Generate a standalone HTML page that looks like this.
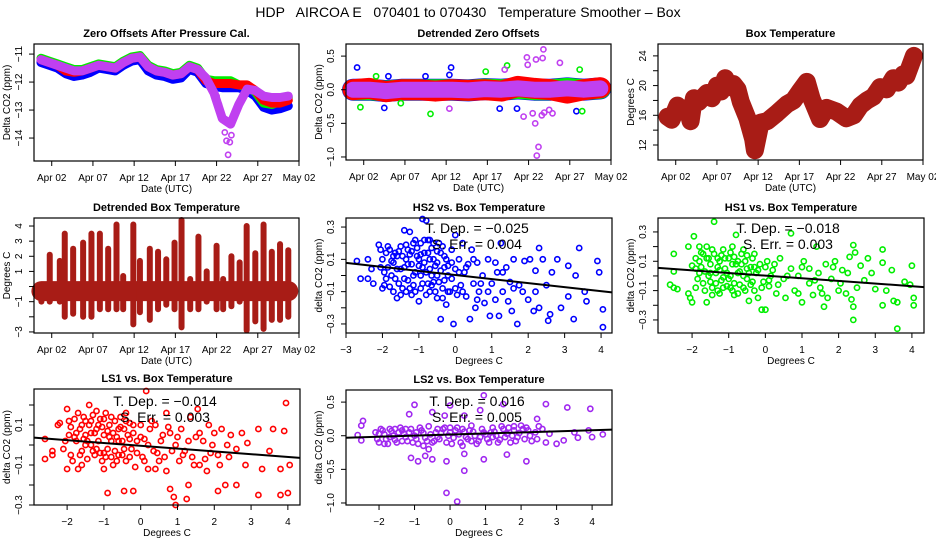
<!DOCTYPE html>
<html><head><meta charset="utf-8"><title>HDP AIRCOA E Temperature Smoother</title>
<style>
html,body{margin:0;padding:0;background:#fff;}
svg{display:block;font-family:"Liberation Sans",Arial,sans-serif;}
</style></head>
<body>
<svg id="chart" width="936" height="540" viewBox="0 0 936 540">
<rect x="0" y="0" width="936" height="540" fill="#fff"/>
<text x="468" y="17" text-anchor="middle" font-size="14" xml:space="preserve">HDP   AIRCOA E   070401 to 070430   Temperature Smoother – Box</text>
</svg>
<script>
// ---------- Panel 1: Zero offsets (days since Apr 01) ----------
const zoTimes = [-0.3,0.7,1.7,2.7,3.7,4.7,5.7,6.7,7.7,8.7,9.7,10.7,11.7,12.7,13.7,14.7,15.7,16.7,17.7,18.7,19.7,20.7,21.7,22.7,23.7,24.7,25.7,26.7,27.7,28.7,29.7];
const zoBlue = [-11.3,-11.4,-11.5,-11.7,-11.8,-11.75,-11.65,-11.5,-11.55,-11.6,-11.4,-11.25,-11.2,-11.6,-11.75,-11.8,-11.9,-11.85,-11.55,-11.65,-12.05,-12.15,-12.2,-12.2,-12.2,-12.3,-12.5,-12.9,-13.0,-12.95,-12.85];
const zoGreen = [-11.15,-11.25,-11.35,-11.45,-11.55,-11.55,-11.45,-11.35,-11.4,-11.45,-11.25,-11.1,-11.05,-11.4,-11.55,-11.6,-11.7,-11.65,-11.4,-11.5,-11.9,-11.95,-11.95,-11.95,-12.1,-12.15,-12.35,-12.75,-12.8,-12.7,-12.55];
const zoRed = [-11.2,-11.3,-11.4,-11.6,-11.65,-11.6,-11.5,-11.4,-11.45,-11.5,-11.3,-11.15,-11.1,-11.45,-11.6,-11.65,-11.75,-11.7,-11.45,-11.55,-11.95,-12.05,-12.05,-12.05,-12.1,-12.1,-12.3,-12.65,-12.75,-12.75,-12.65];
const zoMagenta = [-11.2,-11.3,-11.4,-11.5,-11.6,-11.6,-11.5,-11.4,-11.45,-11.5,-11.3,-11.15,-11.1,-11.45,-11.6,-11.65,-11.75,-11.7,-11.45,-11.55,-11.85,-12.4,-13.3,-13.5,-12.8,-12.25,-12.3,-12.5,-12.55,-12.55,-12.5];
const zoOutliers = [[22.4,-14.6],[22.2,-14.1],[22.6,-14.15],[21.3,-12.8],[21.0,-12.5],[22.0,-13.8],[22.8,-13.9]];

// ---------- Panel 2: Detrended zero offsets ----------
const dzTimes = [-0.3,1.7,3.7,5.7,7.7,9.7,11.7,13.7,15.7,17.7,19.7,21.7,23.7,25.7,27.7,29.7];
const dzMagenta = [0.0,0.0,-0.02,0.0,0.0,0.0,0.0,-0.01,0.01,0.0,0.02,0.0,0.0,0.02,0.0,0.02];
const dzRed = [0.0,0.02,-0.03,0.0,0.0,-0.02,0.0,-0.01,0.0,-0.02,0.05,0.02,0.0,-0.05,0.0,0.03];
const dzBlueOut = [[0.2,0.33],[11.6,0.33],[3.5,-0.27],[26.8,-0.32],[17.5,-0.28],[19.6,-0.28],[4.0,0.2],[8.5,0.2],[11.4,0.22]];
const dzGreenOut = [[9.1,-0.36],[0.6,-0.26],[27.5,-0.32],[15.8,0.27],[18.4,0.36],[27.2,0.3],[5.5,-0.2],[2.5,0.2]];
const dzMagentaOut = [[20.8,0.48],[20.9,0.37],[21.9,0.45],[22.8,0.6],[22.7,0.47],[24.8,0.4],[21.8,-0.5],[22.0,-0.98],[22.2,-0.85],[21.5,-0.35],[20.4,-0.4],[22.6,-0.38],[23.9,-0.35],[18.1,0.3],[11.4,-0.28],[23.5,-0.3],[22.9,-0.34]];

// ---------- Panel 3: Box temperature ----------
const btTimes = [0,0.5,1.2,1.8,2.4,2.8,3.2,3.8,4.8,5.4,6,6.5,7,7.5,8,8.5,8.9,9.7,10.4,10.6,11.3,12.1,13.3,14.5,15.3,16.1,16.9,17.5,18.5,19.3,20.5,21.7,22.6,23.4,24.2,25.0,25.8,26.6,27.4,28.0,28.6,29.0,29.4,29.9];
const btTemp = [15.8,15.4,17.3,16.6,17.0,15.2,18.3,17.8,19.0,18.3,20.0,19.2,21.0,19.8,20.2,19.5,17.8,15.6,12.8,11.3,15.0,15.2,16.3,17.5,18.0,19.3,20.5,18.2,15.5,17.0,16.5,15.6,16.0,17.3,18.0,18.5,19.8,19.5,21.0,20.4,21.5,21.3,22.5,24.0];

// ---------- Panel 4: Detrended box temperature (daily ranges) ----------
const dbTimes = [-0.25,0.76,1.98,2.58,3.6,4.81,5.82,6.84,7.85,8.86,9.67,10.9,11.7,12.9,13.9,14.9,15.9,16.75,17.8,18.8,19.8,21,21.8,22.8,23.8,24.65,25.7,26.7,27.7,28.7,29.7];
const dbLo = [-1,-1,-1,-2,-1.8,-2,-2,-1.5,-1.5,-1.5,-1.5,-2.5,-1.7,-2.2,-1.5,-1.2,-1.5,-2.7,-1.5,-1.5,-1,-1.5,-1.5,-1.3,-1,-2.9,-2.3,-2.8,-2.2,-2.2,-2];
const dbHi = [0,2.1,1.7,3.5,2.5,2.9,3.5,3.5,2.5,4.1,0.7,4.1,1.7,2.5,2.3,1.8,2.9,4.4,0.5,3.3,1,2.7,0.5,2,1.6,4,2.2,4.1,2.3,2.8,2.4];
const dbCoreTimes = [-0.25,29.7];
const dbCore = [-0.3,-0.3];

// ---------- Scatter panels ----------
const hs2Points = [[-2.7,0.09],[-2.6,-0.02],[-2.4,0.10],[-2.4,-0.02],[-2.3,0.04],[-2.25,-0.05],[-2.1,0.19],[-2.05,0.16],[-2.0,0.1],[-2.0,-0.08],[-1.95,0.02],[-1.9,0.14],[-1.85,0.05],[-1.8,-0.07],[-1.8,0.16],[-1.7,0.08],[-1.65,-0.02],[-1.6,-0.14],[-1.6,0.12],[-1.5,0.18],[-1.5,0.04],[-1.45,-0.08],[-1.4,0.28],[-1.35,0.1],[-1.3,-0.03],[-1.3,0.16],[-1.25,0.27],[-1.2,0.07],[-1.2,-0.12],[-1.15,0.2],[-1.1,0.02],[-1.05,0.12],[-1.0,-0.16],[-1.0,0.06],[-0.95,0.2],[-0.9,0.35],[-0.9,-0.05],[-0.85,0.14],[-0.8,0.34],[-0.8,0.02],[-0.75,0.22],[-0.7,-0.1],[-0.7,0.1],[-0.65,0.17],[-0.6,-0.04],[-0.55,0.06],[-0.5,0.15],[-0.5,-0.14],[-0.45,0.2],[-0.4,0.03],[-0.4,-0.27],[-0.35,-0.08],[-0.3,0.12],[-0.25,-0.18],[-0.2,0.06],[-0.15,-0.1],[-0.1,0.16],[-0.1,-0.02],[-0.05,-0.3],[0,0.25],[0,0.04],[0.05,-0.12],[0.1,0.1],[0.15,-0.06],[0.2,0.2],[0.25,0.02],[0.3,-0.13],[0.35,0.07],[0.4,-0.27],[0.45,0.16],[0.5,-0.05],[0.55,-0.2],[0.6,0.08],[0.65,-0.1],[0.75,0],[0.8,-0.17],[0.9,0.1],[0.95,-0.25],[1.0,-0.05],[1.1,-0.15],[1.15,0.02],[1.2,-0.25],[1.25,0.2],[1.3,-0.1],[1.4,0.05],[1.45,-0.16],[1.5,-0.04],[1.55,-0.22],[1.6,0.1],[1.7,-0.3],[1.75,-0.06],[1.85,-0.1],[1.9,0.09],[2.0,-0.15],[2.05,0.1],[2.15,-0.22],[2.2,0.03],[2.3,0.17],[2.3,-0.2],[2.4,0.1],[2.5,-0.06],[2.55,-0.28],[2.6,-0.24],[2.65,0.02],[2.8,0.1],[2.9,-0.2],[3.1,-0.13],[3.1,0.06],[3.25,-0.27],[3.3,0],[3.4,0.17],[3.55,-0.1],[3.6,-0.16],[3.9,0.09],[3.95,0.02],[4.05,-0.32],[4.05,-0.21],[-1.75,0.0],[-1.55,-0.05],[-1.4,0.05],[-1.15,-0.06],[-0.95,0.0],[-0.6,0.1],[-0.3,-0.03],[-1.7,0.12],[-1.25,0.13],[-0.85,0.08],[-0.5,0.0],[-1.9,-0.02],[-1.35,-0.1],[-0.75,-0.05],[-0.2,0.0],
[-2.05,0.05],[-1.95,-0.06],[-1.85,0.18],[-1.75,0.09],[-1.7,-0.1],[-1.6,0.04],[-1.55,0.15],[-1.45,0.12],[-1.4,-0.02],[-1.35,0.19],[-1.3,0.07],[-1.2,0.15],[-1.15,0.0],[-1.1,-0.1],[-1.05,0.17],[-1.0,0.1],[-0.95,-0.08],[-0.9,0.05],[-0.85,0.22],[-0.8,-0.12],[-0.75,0.14],[-0.7,0.04],[-0.65,-0.06],[-0.6,0.2],[-0.55,-0.1],[-0.5,0.08],[-0.45,-0.04],[-0.4,0.14],[-0.35,-0.14],[-0.3,0.05],[-0.25,0.1],[-0.2,-0.1],[-0.1,0.08],[0.0,-0.08],[0.1,0.02],[0.2,-0.1],[0.3,0.05],[-1.65,0.14],[-1.25,-0.08],[-0.95,0.13],[-0.65,0.0],[-0.35,0.18],[-1.5,-0.12],[-1.1,0.22],[-0.7,0.22],[0.5,0.1],[0.7,-0.05],[0.9,-0.1],[1.3,0.02],[1.6,-0.08],[2.2,-0.1],[0.6,-0.15],[1.1,0.08]];
const hs2Stats = ["T. Dep. =  \u22120.025","S. Err. =  0.004"];
const hs2Fit = [0.003,-0.025];

const hs1Points = [[-2.6,-0.06],[-2.5,-0.08],[-2.4,-0.09],[-2.5,0.15],[-2.5,0.03],[-2.1,0.2],[-2.1,-0.12],[-2.05,-0.15],[-2.0,-0.18],[-1.95,0.27],[-1.9,0.05],[-1.85,-0.02],[-1.8,0.2],[-1.8,0.1],[-1.7,-0.05],[-1.65,0.03],[-1.6,-0.18],[-1.6,0.12],[-1.55,0.0],[-1.5,0.08],[-1.45,-0.08],[-1.4,0.37],[-1.4,0.15],[-1.35,0.02],[-1.3,-0.1],[-1.25,0.1],[-1.2,-0.03],[-1.15,0.18],[-1.1,0.05],[-1.05,-0.07],[-1.0,0.12],[-0.95,0.0],[-0.9,0.2],[-0.85,-0.05],[-0.8,0.28],[-0.8,0.08],[-0.75,-0.12],[-0.7,0.03],[-0.65,0.15],[-0.6,-0.08],[-0.55,0.1],[-0.5,-0.02],[-0.45,-0.17],[-0.4,0.06],[-0.35,0.12],[-0.3,-0.1],[-0.25,0.02],[-0.2,-0.15],[-0.15,0.08],[-0.1,-0.23],[-0.05,-0.04],[0,-0.23],[0.05,0.1],[0.1,-0.07],[0.2,0.04],[0.3,-0.12],[0.4,0.12],[0.5,-0.02],[0.55,-0.15],[0.7,0.29],[0.7,0.05],[0.8,-0.1],[0.9,0.0],[1.0,-0.18],[1.05,0.1],[1.2,-0.05],[1.3,-0.13],[1.4,0.2],[1.45,0.02],[1.5,-0.08],[1.6,-0.21],[1.65,0.08],[1.7,-0.15],[1.8,-0.02],[1.9,0.1],[2.0,-0.1],[2.1,0.04],[2.2,-0.12],[2.3,0.13],[2.35,-0.16],[2.4,0.21],[2.4,-0.21],[2.4,-0.3],[2.45,0.16],[2.5,-0.08],[2.6,0.07],[2.7,-0.03],[2.8,0.12],[2.9,0.02],[3.0,-0.09],[3.2,0.18],[3.2,-0.2],[3.2,0.09],[3.3,-0.1],[3.45,0.04],[3.5,-0.17],[3.6,-0.36],[3.6,-0.18],[3.8,-0.04],[3.95,-0.06],[4.0,0.07],[4.05,-0.15],[4.05,-0.2],[-1.75,0.06],[-1.5,-0.04],[-1.25,0.04],[-1.0,-0.02],[-0.75,0.1],[-0.5,0.05],[-1.9,0.12],[-1.3,0.12],[-0.9,-0.1],[-0.6,0.0],[-0.3,0.06],[-1.7,0.15],[-1.15,-0.08],[-0.4,-0.06],[0.15,0.0],
[-2.0,0.07],[-1.9,-0.08],[-1.8,0.02],[-1.75,0.16],[-1.65,-0.1],[-1.55,0.12],[-1.5,0.02],[-1.45,0.18],[-1.35,-0.05],[-1.3,0.06],[-1.2,0.14],[-1.15,-0.01],[-1.1,0.12],[-1.05,0.02],[-0.95,0.16],[-0.95,-0.08],[-0.9,0.08],[-0.85,0.13],[-0.75,0.02],[-0.7,-0.06],[-0.65,0.08],[-0.55,-0.1],[-0.5,0.14],[-0.45,0.02],[-0.35,-0.04],[-0.3,0.15],[-0.2,0.04],[-0.1,-0.08],[0.0,0.06],[0.1,-0.03],[0.25,0.08],[0.35,-0.06],[-1.6,0.2],[-1.25,-0.12],[-0.85,-0.13],[-0.6,0.18],[-1.45,-0.13],[0.6,0.0],[0.9,-0.12],[1.2,0.05],[1.55,-0.12],[1.85,0.06],[2.05,-0.05],[2.25,0.02],[1.0,0.06],[1.35,-0.03]];
const hs1Stats = ["T. Dep. =  \u22120.018","S. Err. =  0.003"];
const hs1Fit = [0.002,-0.018];

const ls1Points = [[-2.6,0.03],[-2.6,-0.07],[-2.4,-0.05],[-2.4,-0.03],[-2.25,0.1],[-2.2,0.11],[-2.1,-0.02],[-2.0,0.18],[-2.0,-0.12],[-1.95,0.05],[-1.9,-0.05],[-1.8,0.13],[-1.75,0.02],[-1.7,-0.12],[-1.65,0.08],[-1.6,-0.03],[-1.55,0.14],[-1.5,0.05],[-1.45,-0.07],[-1.4,0.2],[-1.4,0.1],[-1.35,0.0],[-1.3,0.15],[-1.25,-0.05],[-1.2,0.08],[-1.15,0.02],[-1.1,0.13],[-1.05,-0.08],[-1.0,0.05],[-0.95,0.16],[-0.9,-0.24],[-0.9,-0.02],[-0.85,0.1],[-0.8,0.02],[-0.75,-0.1],[-0.7,0.12],[-0.65,0.04],[-0.6,-0.05],[-0.55,0.14],[-0.5,0.02],[-0.45,-0.23],[-0.45,0.08],[-0.4,-0.08],[-0.35,0.05],[-0.3,0.11],[-0.25,-0.02],[-0.2,-0.23],[-0.2,0.06],[-0.15,-0.11],[-0.1,0.02],[0,0.1],[0.05,-0.06],[0.1,0.03],[0.15,0.27],[0.2,-0.12],[0.25,0.08],[0.35,-0.03],[0.4,0.1],[0.5,-0.08],[0.6,0.05],[0.7,0.16],[0.7,-0.13],[0.8,-0.22],[0.8,0.06],[0.9,-0.26],[0.95,-0.3],[0.95,0.0],[1.05,-0.08],[1.1,0.08],[1.2,-0.03],[1.25,-0.27],[1.3,-0.2],[1.35,0.14],[1.4,-0.06],[1.5,0.04],[1.55,0.18],[1.6,-0.1],[1.7,0.02],[1.8,-0.13],[1.85,0.1],[1.9,-0.04],[2.0,0.06],[2.1,-0.23],[2.1,-0.05],[2.2,0.08],[2.3,-0.2],[2.35,0.0],[2.45,0.05],[2.6,-0.2],[2.6,-0.02],[2.75,0.06],[2.85,-0.1],[2.9,0.01],[3.2,0.08],[3.2,-0.25],[3.3,-0.12],[3.5,-0.03],[3.6,0.08],[3.8,-0.25],[3.8,-0.12],[3.9,0.07],[3.95,0.21],[4.0,-0.24],[4.05,-0.1],[-1.75,0.06],[-1.5,0.0],[-1.2,-0.02],[-0.9,0.07],[-0.6,0.08],[-0.3,0.03],[-1.9,0.09],[-1.35,0.06],[-1.0,-0.04],[-0.7,-0.03],[-0.5,-0.05],[-1.6,0.1],[-1.15,0.1],[-0.8,-0.06],
[-2.05,0.02],[-1.95,0.12],[-1.85,-0.08],[-1.8,0.04],[-1.7,0.16],[-1.65,-0.05],[-1.55,0.03],[-1.5,0.12],[-1.45,0.02],[-1.35,0.12],[-1.3,-0.03],[-1.25,0.06],[-1.2,0.17],[-1.1,-0.04],[-1.05,0.09],[-1.0,0.13],[-0.95,-0.06],[-0.85,0.04],[-0.8,0.14],[-0.75,0.06],[-0.65,-0.08],[-0.6,0.02],[-0.55,0.09],[-0.45,-0.02],[-0.4,0.12],[-0.3,-0.06],[-0.2,0.1],[-0.1,-0.04],[0.0,0.04],[0.1,-0.08],[0.2,0.0],[0.3,0.12],[0.45,-0.04],[0.55,0.02],[0.65,-0.06],[0.75,0.09],[0.85,-0.03],[1.0,0.04],[1.15,-0.05],[1.3,0.02],[1.45,-0.1],[1.6,0.06],[1.75,-0.07],[1.95,0.0],[2.15,-0.1],[2.4,-0.06],[-1.6,-0.1],[-1.0,-0.12],[-0.4,0.16],[0.4,-0.12]];
const ls1Stats = ["T. Dep. =  \u22120.014","S. Err. =  0.003"];
const ls1Fit = [-0.004,-0.014];

const ls2Points = [[0.95,0.6],[-1.0,0.46],[0.0,0.45],[1.5,0.47],[2.7,0.47],[3.3,0.42],[3.95,0.4],[0.85,0.38],[-0.5,0.35],[-1.15,0.32],[-0.15,0.3],[0.4,0.3],[-2.45,0.22],[-2.5,0.15],[2.45,0.25],[-1.1,-0.33],[-0.9,-0.38],[-0.7,-0.3],[-0.5,-0.35],[-0.1,-0.38],[0.4,-0.52],[0.4,-0.27],[0.95,-0.35],[1.6,-0.28],[2.15,-0.38],[-0.1,-0.85],[0.2,-0.98],[-2.6,0.01],[-2.5,-0.07],[4.0,-0.02],[4.3,0.02],[3.0,-0.12],[3.2,-0.07],[3.5,0.05],[3.6,-0.03],[3.9,0.08],[-2.1,0.05],[-2.0,-0.1],[-1.9,0.08],[-1.8,-0.05],[-1.7,0.1],[-1.6,0.0],[-1.5,-0.1],[-1.4,0.12],[-1.3,0.03],[-1.2,-0.08],[-1.1,0.1],[-1.0,0.0],[-0.9,-0.12],[-0.8,0.08],[-0.7,-0.03],[-0.6,0.14],[-0.5,-0.1],[-0.4,0.05],[-0.3,-0.05],[-0.2,0.1],[-0.1,-0.1],[0,0.05],[0.1,-0.03],[0.2,0.12],[0.3,-0.1],[0.4,0.06],[0.5,-0.05],[0.6,0.15],[0.7,0.0],[0.8,-0.08],[0.9,0.1],[1.0,0.02],[1.1,-0.1],[1.2,0.12],[1.3,0.0],[1.4,-0.06],[1.5,0.1],[1.6,0.03],[1.7,-0.1],[1.8,0.08],[1.9,-0.02],[2.0,0.15],[2.1,-0.05],[2.2,0.08],[2.3,-0.08],[2.4,0.05],[2.6,0.1],[2.7,-0.1],[2.8,0.03],[-2.0,0.03],[-1.75,-0.12],[-1.45,0.05],[-1.25,-0.02],[-0.95,0.05],[-0.65,-0.08],[-0.35,0.1],[-0.05,0.0],[0.25,0.02],[0.55,0.08],[0.85,-0.02],[1.15,0.05],[1.45,0.14],[1.75,0.0],[2.05,0.1],[-1.55,0.1],[-0.75,-0.15],[0.35,-0.15],[-0.6,-0.2],
[-2.05,-0.05],[-1.95,0.1],[-1.85,-0.12],[-1.85,0.02],[-1.65,0.07],[-1.55,-0.06],[-1.35,-0.08],[-1.35,0.08],[-1.15,0.05],[-1.05,-0.1],[-0.85,0.12],[-0.75,0.04],[-0.55,0.02],[-0.45,-0.08],[-0.25,0.04],[-0.15,0.12],[0.05,-0.12],[0.15,0.08],[0.35,0.1],[0.45,-0.02],[0.65,0.06],[0.75,-0.12],[0.95,0.05],[1.05,-0.05],[1.25,0.06],[1.35,-0.1],[1.55,-0.02],[1.65,0.12],[1.85,-0.08],[1.95,0.04],[2.15,0.12],[2.25,0.0],[2.45,-0.05],[2.5,0.14],[-1.7,-0.02],[-1.25,0.1],[-0.95,-0.05],[-0.35,-0.02],[0.0,0.12],[0.6,-0.08],[1.2,-0.02],[1.8,0.14]];
const ls2Stats = ["T. Dep. =  0.016","S. Err. =  0.005"];
const ls2Fit = [0.017,0.016];

const dateTicks = [1,6,11,16,21,26,31];
const dateLabels = ["Apr 02","Apr 07","Apr 12","Apr 17","Apr 22","Apr 27","May 02"];

const NS = "http://www.w3.org/2000/svg";
const svg = document.getElementById("chart");
function mk(tag, attrs, parent) {
  const e = document.createElementNS(NS, tag);
  for (const k in attrs) e.setAttribute(k, attrs[k]);
  (parent || svg).appendChild(e);
  return e;
}
function panel(name, x0, y0, x1, y1, xmin, xmax, ymin, ymax) {
  const g = mk("g", {});
  
  
  return {g, x0, y0, x1, y1,
    sx: v => x0 + (v - xmin) / (xmax - xmin) * (x1 - x0),
    sy: v => y1 - (v - ymin) / (ymax - ymin) * (y1 - y0)};
}
function frame(p, title, xtitle, ytitle) {
  const r = mk("rect", {x: p.x0, y: p.y0, width: p.x1 - p.x0, height: p.y1 - p.y0, fill: "none", stroke: "#000", "stroke-width": 1.2}, p.g);
  
  
  const t = mk("text", {x: (p.x0 + p.x1) / 2, y: p.y0 - 7, "text-anchor": "middle", "font-size": 11, "font-weight": "bold"}, p.g);
  t.textContent = title;
  
  
  const xt = mk("text", {x: (p.x0 + p.x1) / 2, y: p.y1 + 31, "text-anchor": "middle", "font-size": 10}, p.g);
  xt.textContent = xtitle;
  
  
  const cy = (p.y0 + p.y1) / 2, cx = p.x0 - 24;
  const yt = mk("text", {x: cx, y: cy, "text-anchor": "middle", "font-size": 10, transform: `rotate(-90 ${cx} ${cy})`}, p.g);
  yt.textContent = ytitle;
  
  
}
function xAxis(p, vals, labels) {
  const line = mk("line", {x1: p.sx(vals[0]), x2: p.sx(vals[vals.length - 1]), y1: p.y1, y2: p.y1, stroke: "#000"}, p.g);
  
  
  vals.forEach((v, i) => {
    const x = p.sx(v);
    const tk = mk("line", {x1: x, x2: x, y1: p.y1, y2: p.y1 + 5, stroke: "#000"}, p.g);
    
    
    if (labels[i] !== "") {
      const t = mk("text", {x: x, y: p.y1 + 20, "text-anchor": "middle", "font-size": 10}, p.g);
      t.textContent = labels[i];
      
      
    }
  });
}
function yAxis(p, vals, labels) {
  vals.forEach((v, i) => {
    const y = p.sy(v);
    const tk = mk("line", {x1: p.x0 - 5, x2: p.x0, y1: y, y2: y, stroke: "#000"}, p.g);
    
    
    if (labels[i] !== "") {
      const cx = p.x0 - 12;
      const t = mk("text", {x: cx, y: y, "text-anchor": "middle", "font-size": 10, transform: `rotate(-90 ${cx} ${y})`}, p.g);
      t.textContent = labels[i];
      
      
    }
  });
}
function band(p, times, vals, color, width, name) {
  const pts = times.map((t, i) => p.sx(t).toFixed(1) + "," + p.sy(vals[i]).toFixed(1)).join(" ");
  const pl = mk("polyline", {points: pts, fill: "none", stroke: color, "stroke-width": width, "stroke-linejoin": "round", "stroke-linecap": "round"}, p.g);
  
  
}
function points(p, arr, color, name) {
  arr.forEach(d => {
    const c = mk("circle", {cx: p.sx(d[0]).toFixed(1), cy: p.sy(d[1]).toFixed(1), r: 2.6, fill: "none", stroke: color, "stroke-width": 1.6}, p.g);
    
    
  });
}
function fitLine(p, fit, xmin, xmax) {
  const l = mk("line", {x1: p.sx(xmin), y1: p.sy(fit[0] + fit[1] * xmin), x2: p.sx(xmax), y2: p.sy(fit[0] + fit[1] * xmax), stroke: "#000", "stroke-width": 2}, p.g);
  
  
}
function stats(p, lines, cx, y1) {
  lines.forEach((s, i) => {
    const t = mk("text", {x: cx, y: y1 + i * 16, "text-anchor": "middle", "font-size": 14}, p.g);
    t.textContent = s;
    
    
  });
}

// Panel 1
const p1 = panel("zero-offsets-panel", 34, 44, 299, 161, -1.15, 31, -14.82, -10.64);
band(p1, zoTimes, zoBlue, "#0000ff", 9, "hs2-series");
band(p1, zoTimes, zoGreen, "#00ee00", 9, "hs1-series");
band(p1, zoTimes, zoRed, "#ff0000", 9, "ls1-series");
band(p1, zoTimes, zoMagenta, "#c040f0", 9, "ls2-series");
points(p1, zoOutliers, "#c040f0", "ls2-outlier");
frame(p1, "Zero Offsets After Pressure Cal.", "Date (UTC)", "Delta CO2 (ppm)");
xAxis(p1, dateTicks, dateLabels);
yAxis(p1, [-11, -12, -13, -14], ["\u221211", "\u221212", "\u221213", "\u221214"]);

// Panel 2
const p2 = panel("detrended-zero-offsets-panel", 346, 44, 611, 160, -1.15, 31, -1.045, 0.68);
band(p2, dzTimes, dzMagenta, "#0000ff", 22, "hs2-series");
band(p2, dzTimes, dzMagenta, "#00ee00", 21, "hs1-series");
band(p2, dzTimes, dzRed, "#ff0000", 21, "ls1-series");
band(p2, dzTimes, dzMagenta, "#c040f0", 16, "ls2-series");
points(p2, dzBlueOut, "#0000ff", "hs2-outlier");
points(p2, dzGreenOut, "#00ee00", "hs1-outlier");
points(p2, dzMagentaOut, "#c040f0", "ls2-outlier");
frame(p2, "Detrended Zero Offsets", "Date (UTC)", "Delta CO2 (ppm)");
xAxis(p2, dateTicks, dateLabels);
yAxis(p2, [0.5, 0, -0.5, -1.0], ["0.5", "0.0", "\u22120.5", "\u22121.0"]);

// Panel 3
const p3 = panel("box-temperature-panel", 658, 44, 923, 160, -1.15, 31, 9.98, 25.6);
band(p3, btTimes, btTemp, "#a81c16", 18, "box-temperature-series");
frame(p3, "Box Temperature", "Date (UTC)", "Degrees C");
xAxis(p3, dateTicks, dateLabels);
yAxis(p3, [12, 14, 16, 18, 20, 22, 24], ["12", "", "16", "", "20", "", "24"]);

// Panel 4
const p4 = panel("detrended-box-temperature-panel", 34, 218, 299, 333, -1.15, 31, -3.07, 4.53);
band(p4, dbCoreTimes, dbCore, "#a81c16", 20, "detrended-core-band");
dbTimes.forEach((t, i) => {
  const l = mk("line", {x1: p4.sx(t), x2: p4.sx(t), y1: p4.sy(dbLo[i]), y2: p4.sy(dbHi[i]), stroke: "#a81c16", "stroke-width": 6, "stroke-linecap": "round"}, p4.g);
  
  
});
frame(p4, "Detrended Box Temperature", "Date (UTC)", "Degrees C");
xAxis(p4, dateTicks, dateLabels);
yAxis(p4, [4, 3, 2, 1, 0, -1, -2, -3], ["4", "3", "2", "1", "", "\u22121", "", "\u22123"]);

const tk01 = [0.3, 0.2, 0.1, 0, -0.1, -0.2, -0.3];
const tk01L = ["0.3", "", "0.1", "", "\u22120.1", "", "\u22120.3"];

// Panel 5
const p5 = panel("hs2-vs-temperature-panel", 346, 218, 612, 333, -3, 4.3, -0.356, 0.356);
points(p5, hs2Points, "#0000ff", "hs2-point");
fitLine(p5, hs2Fit, -3, 4.3);
stats(p5, hs2Stats, 477, 233);
frame(p5, "HS2 vs. Box Temperature", "Degrees C", "delta CO2 (ppm)");
xAxis(p5, [-3, -2, -1, 0, 1, 2, 3, 4], ["\u22123", "\u22122", "\u22121", "0", "1", "2", "3", "4"]);
yAxis(p5, tk01, tk01L);

// Panel 6
const p6 = panel("hs1-vs-temperature-panel", 658, 218, 924, 333, -2.93, 4.33, -0.389, 0.395);
points(p6, hs1Points, "#00ee00", "hs1-point");
fitLine(p6, hs1Fit, -2.93, 4.33);
stats(p6, hs1Stats, 788, 233);
frame(p6, "HS1 vs. Box Temperature", "Degrees C", "delta CO2 (ppm)");
xAxis(p6, [-2, -1, 0, 1, 2, 3, 4], ["\u22122", "\u22121", "0", "1", "2", "3", "4"]);
yAxis(p6, tk01, tk01L);

// Panel 7
const p7 = panel("ls1-vs-temperature-panel", 34, 389, 300, 505, -2.9, 4.33, -0.3, 0.28);
points(p7, ls1Points, "#ff0000", "ls1-point");
fitLine(p7, ls1Fit, -2.9, 4.33);
stats(p7, ls1Stats, 165, 406);
frame(p7, "LS1 vs. Box Temperature", "Degrees C", "delta CO2 (ppm)");
xAxis(p7, [-2, -1, 0, 1, 2, 3, 4], ["\u22122", "\u22121", "0", "1", "2", "3", "4"]);
yAxis(p7, [0.2, 0.1, 0, -0.1, -0.2, -0.3], ["", "0.1", "", "\u22120.1", "", "\u22120.3"]);

// Panel 8
const p8 = panel("ls2-vs-temperature-panel", 346, 390, 612, 505, -2.93, 4.56, -1.03, 0.68);
points(p8, ls2Points, "#a028f0", "ls2-point");
fitLine(p8, ls2Fit, -2.93, 4.56);
stats(p8, ls2Stats, 477, 406);
frame(p8, "LS2 vs. Box Temperature", "Degrees C", "delta CO2 (ppm)");
xAxis(p8, [-2, -1, 0, 1, 2, 3, 4], ["\u22122", "\u22121", "0", "1", "2", "3", "4"]);
yAxis(p8, [0.5, 0, -0.5, -1.0], ["0.5", "0.0", "\u22120.5", "\u22121.0"]);
</script>
</body></html>
